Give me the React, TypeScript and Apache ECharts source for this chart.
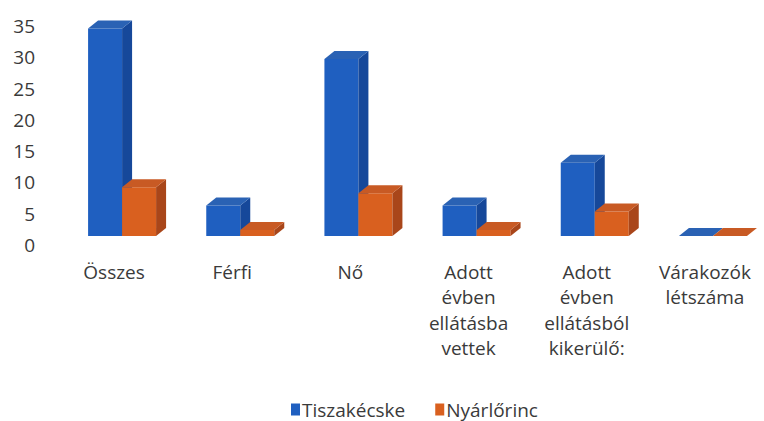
import React, { useEffect, useRef } from "react";
import * as echarts from "echarts";

const categories = [
  "Összes",
  "Férfi",
  "Nő",
  "Adott\névben\nellátásba\nvettek",
  "Adott\névben\nellátásból\nkikerülő:",
  "Várakozók\nlétszáma",
];
const seriesNames = ["Tiszakécske", "Nyárlőrinc"];
const tiszakecske = [34, 5, 29, 5, 12, 0];
const nyarlorinc = [8, 1, 7, 1, 4, 0];
const yTicks = [0, 5, 10, 15, 20, 25, 30, 35];

const palettes = [
  { front: "#1f5fc0", side: "#16489a", top: "#2a62b4", legend: "#1f5fc0" },
  { front: "#d9601f", side: "#a9461a", top: "#c85a24", legend: "#d9601f" },
];

function makeRender(sIdx: number) {
  return (params: any, api: any) => {
    const idx = api.value(0);
    const v = api.value(1);
    const base = api.coord([idx, 0]);
    const topPt = api.coord([idx, v]);
    const c = base[0] + 8;
    const w = 34;
    const x0 = sIdx === 0 ? c - w : c;
    const x1 = x0 + w;
    const yb = base[1] - 9;
    const h = (base[1] - topPt[1]) * 0.975;
    const yt = yb - h;
    const dx = 10;
    const dy = 8;
    const p = palettes[sIdx];
    const children: any[] = [];
    if (h > 0.5) {
      children.push({
        type: "polygon",
        shape: { points: [[x0, yt], [x1, yt], [x1, yb], [x0, yb]] },
        style: { fill: p.front },
      });
      children.push({
        type: "polygon",
        shape: { points: [[x1, yt], [x1 + dx, yt - dy], [x1 + dx, yb - dy], [x1, yb]] },
        style: { fill: p.side },
      });
    }
    children.push({
      type: "polygon",
      shape: { points: [[x0, yt], [x0 + dx, yt - dy], [x1 + dx, yt - dy], [x1, yt]] },
      style: { fill: p.top },
    });
    return { type: "group", children };
  };
}

export default function App() {
  const ref = useRef<HTMLDivElement>(null);
  useEffect(() => {
    if (!ref.current) return;
    const chart = echarts.init(ref.current, undefined, { renderer: "svg" });
    const font = "'Open Sans', 'Noto Sans', sans-serif";
    chart.setOption({
      animation: false,
      backgroundColor: "#ffffff",
      textStyle: { fontFamily: font },
      legend: {
        bottom: -3,
        left: 286,
        icon: "rect",
        itemWidth: 9,
        itemHeight: 12,
        itemGap: 30,
        textStyle: { fontSize: 19, color: "#3a3a3a", fontFamily: font, padding: [0, 0, 0, -3] },
        data: seriesNames.map((n, i) => ({ name: n, itemStyle: { color: palettes[i].legend } })),
      },
      grid: { left: 55, width: 720, top: 26, height: 219 },
      xAxis: {
        type: "category",
        data: categories,
        axisLine: { show: false },
        axisTick: { show: false },
        axisLabel: {
          interval: 0,
          margin: 14,
          fontSize: 19,
          lineHeight: 25.5,
          color: "#3a3a3a",
          fontFamily: font,
          verticalAlign: "top",
        },
      },
      yAxis: {
        type: "value",
        min: 0,
        max: 35,
        interval: 5,
        axisLine: { show: false },
        axisTick: { show: false },
        splitLine: { show: false },
        axisLabel: {
          margin: 20,
          fontSize: 19,
          color: "#3a3a3a",
          fontFamily: font,
          formatter: (val: number) => (yTicks.includes(val) ? String(val) : ""),
        },
      },
      series: [tiszakecske, nyarlorinc].map((vals, sIdx) => ({
        type: "custom",
        name: seriesNames[sIdx],
        itemStyle: { color: palettes[sIdx].legend },
        renderItem: makeRender(sIdx),
        encode: { x: 0, y: 1 },
        data: vals.map((v, i) => [i, v]),
      })),
    });
    return () => chart.dispose();
  }, []);
  return (
    <div
      ref={ref}
      style={{ position: "absolute", left: 0, top: 0, width: 764, height: 421 }}
    />
  );
}
